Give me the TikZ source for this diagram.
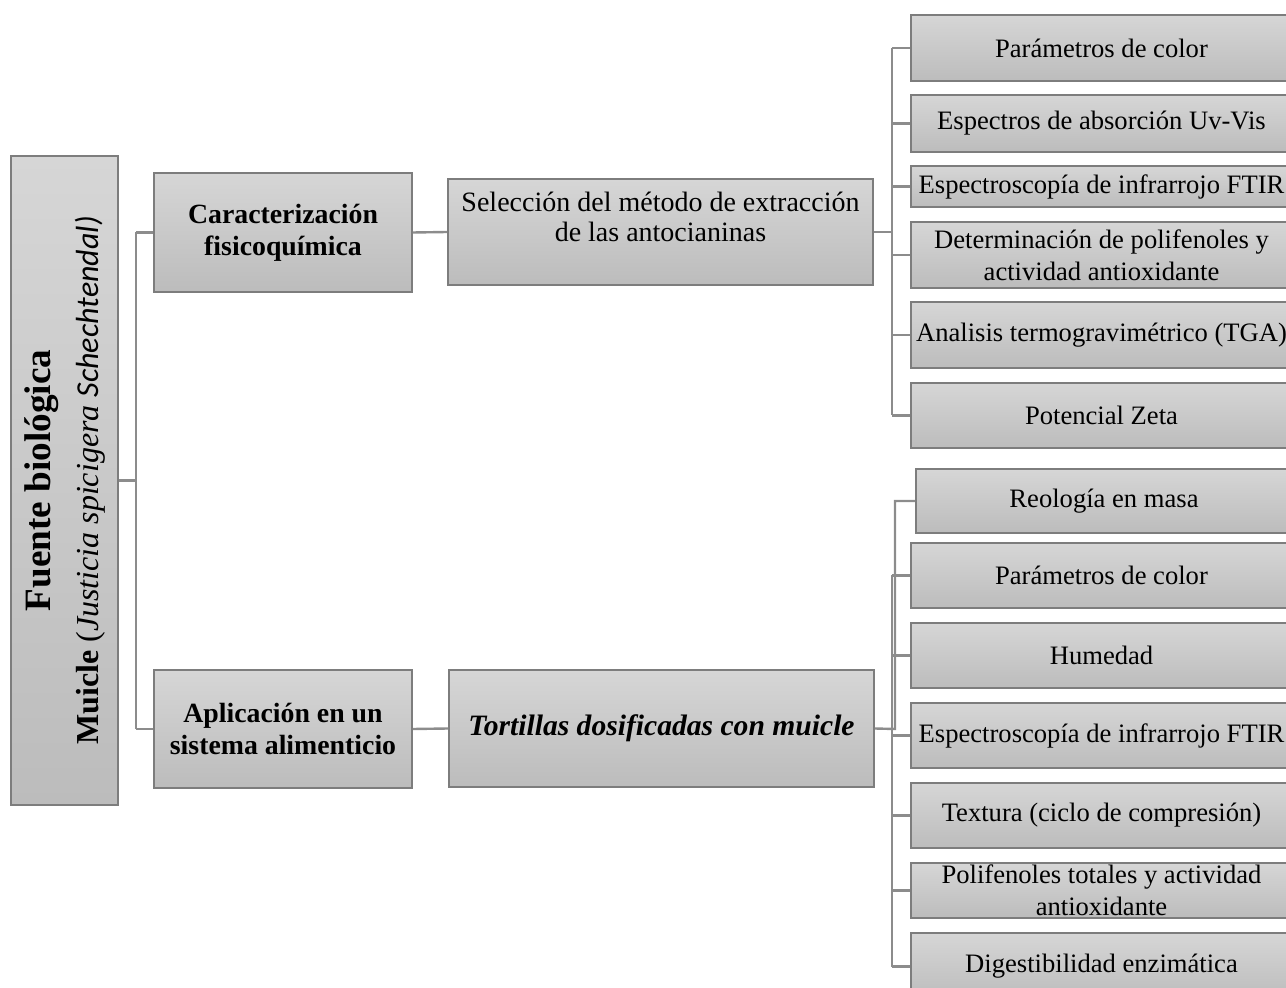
\documentclass[tikz,border=0pt]{standalone}
\usepackage{fontspec}
\setmainfont{Liberation Serif}
\newfontfamily\calib{Carlito}
\usepackage{tikz}
\definecolor{boxTop}{RGB}{214, 214, 214}
\definecolor{boxBot}{RGB}{188, 188, 188}
\definecolor{boxEdge}{RGB}{125, 125, 125}
\definecolor{linkGray}{RGB}{140, 140, 140}

\tikzset{
  box/.style={draw=boxEdge, line width=0.8pt, top color=boxTop, bottom color=boxBot,
    align=center, inner sep=1pt, font=\fontsize{13.3}{16}\selectfont},
  head/.style={box, font=\fontsize{13.9}{16}\selectfont\bfseries},
  link/.style={draw=linkGray, line width=1.2pt}
}

\begin{document}
\begin{tikzpicture}[x=0.5pt, y=-0.5pt]
      \useasboundingbox (0,0) rectangle (1286,988);
      \clip (0,0) rectangle (1286,988);
      % left column
      \node[box, minimum width=53.5pt, minimum height=324.5pt] (fuente) at (64.5,480.5) {};
      \node[rotate=90, align=center, font=\fontsize{16}{24}\selectfont] at (fuente)
        {{\fontsize{18.6}{24}\selectfont\bfseries Fuente biológica}\\
         \textbf{Muicle} (\textit{Justicia spicigera} {\calib\itshape Schechtendal)}};
      \node[head, minimum width=129pt, minimum height=59.5pt] (carac) at (283,232.5) {Caracterización\\fisicoquímica};
      \node[head, minimum width=129pt, minimum height=59pt] (aplic) at (283,729) {Aplicación en un\\sistema alimenticio};
      % middle column
      \node[box, minimum width=212.5pt, minimum height=53pt] (selec) at (660.5,232) {};
      \node[align=center, font=\fontsize{14}{15}\selectfont] at ([yshift=7.5pt]selec.center) {Selección del método de extracción\\de las antocianinas};
      \node[box, minimum width=212.5pt, minimum height=58.5pt, font=\fontsize{14.8}{16}\selectfont\bfseries\itshape] (tort) at (661.5,728.5) {Tortillas dosificadas con muicle};
      % right column, top
      \node[box, minimum width=190.5pt, minimum height=33pt] (p1) at (1101.5,48) {Parámetros de color};
      \node[box, minimum width=190.5pt, minimum height=28.5pt] (p2) at (1101.5,123.5) {Espectros de absorción Uv-Vis};
      \node[box, minimum width=190.5pt, minimum height=20.5pt] (p3) at (1101.5,186.5) {Espectroscopía de infrarrojo FTIR};
      \node[box, minimum width=190.5pt, minimum height=33pt] (p4) at (1101.5,255) {Determinación de polifenoles y\\actividad antioxidante};
      \node[box, minimum width=190.5pt, minimum height=33pt] (p5) at (1101.5,335) {Analisis termogravimétrico (TGA)};
      \node[box, minimum width=190.5pt, minimum height=32.5pt] (p6) at (1101.5,415.5) {Potencial Zeta};
      % right column, bottom
      \node[box, minimum width=188pt, minimum height=32pt] (b1) at (1104,501) {Reología en masa};
      \node[box, minimum width=190.5pt, minimum height=32.5pt] (b2) at (1101.5,575.5) {Parámetros de color};
      \node[box, minimum width=190.5pt, minimum height=32.5pt] (b3) at (1101.5,655.5) {Humedad};
      \node[box, minimum width=190.5pt, minimum height=32.5pt] (b4) at (1101.5,735.5) {Espectroscopía de infrarrojo FTIR};
      \node[box, minimum width=190.5pt, minimum height=32.5pt] (b5) at (1101.5,815.5) {Textura (ciclo de compresión)};
      \node[box, minimum width=190.5pt, minimum height=27.5pt] (b6) at (1101.5,890.5) {Polifenoles totales y actividad\\antioxidante};
      \node[box, minimum width=190.5pt, minimum height=33.5pt] (b7) at (1101.5,966.5) {Digestibilidad enzimática};
      % connectors
      \coordinate (busL) at (136,480.5);
      \coordinate (busT) at (892,232);
      \coordinate (busB) at (892,729);
      \coordinate (busR) at (895,729);
      \draw[link] (fuente.east) -- (busL);
      \draw[link] (busL |- carac.west) -- (busL |- aplic.west);
      \draw[link] (busL |- carac.west) -- (carac.west);
      \draw[link] (busL |- aplic.west) -- (aplic.west);
      \draw[link] (carac.east) -- (selec.west);
      \draw[link] (aplic.east) -- (tort.west);
      \draw[link] (selec.east) -- (busT);
      \draw[link] (busT |- p1.west) -- (busT |- p6.west);
      \foreach \n in {p1,p2,p3,p4,p5,p6}
        \draw[link] (busT |- \n.west) -- (\n.west);
      \draw[link] (tort.east) -- (busR) -- (busR |- b1.west) -- (b1.west);
      \draw[link] (busB |- b2.west) -- (busB |- b7.west);
      \foreach \n in {b2,b3,b4,b5,b6,b7}
        \draw[link] (busB |- \n.west) -- (\n.west);
    \end{tikzpicture}
\end{document}
